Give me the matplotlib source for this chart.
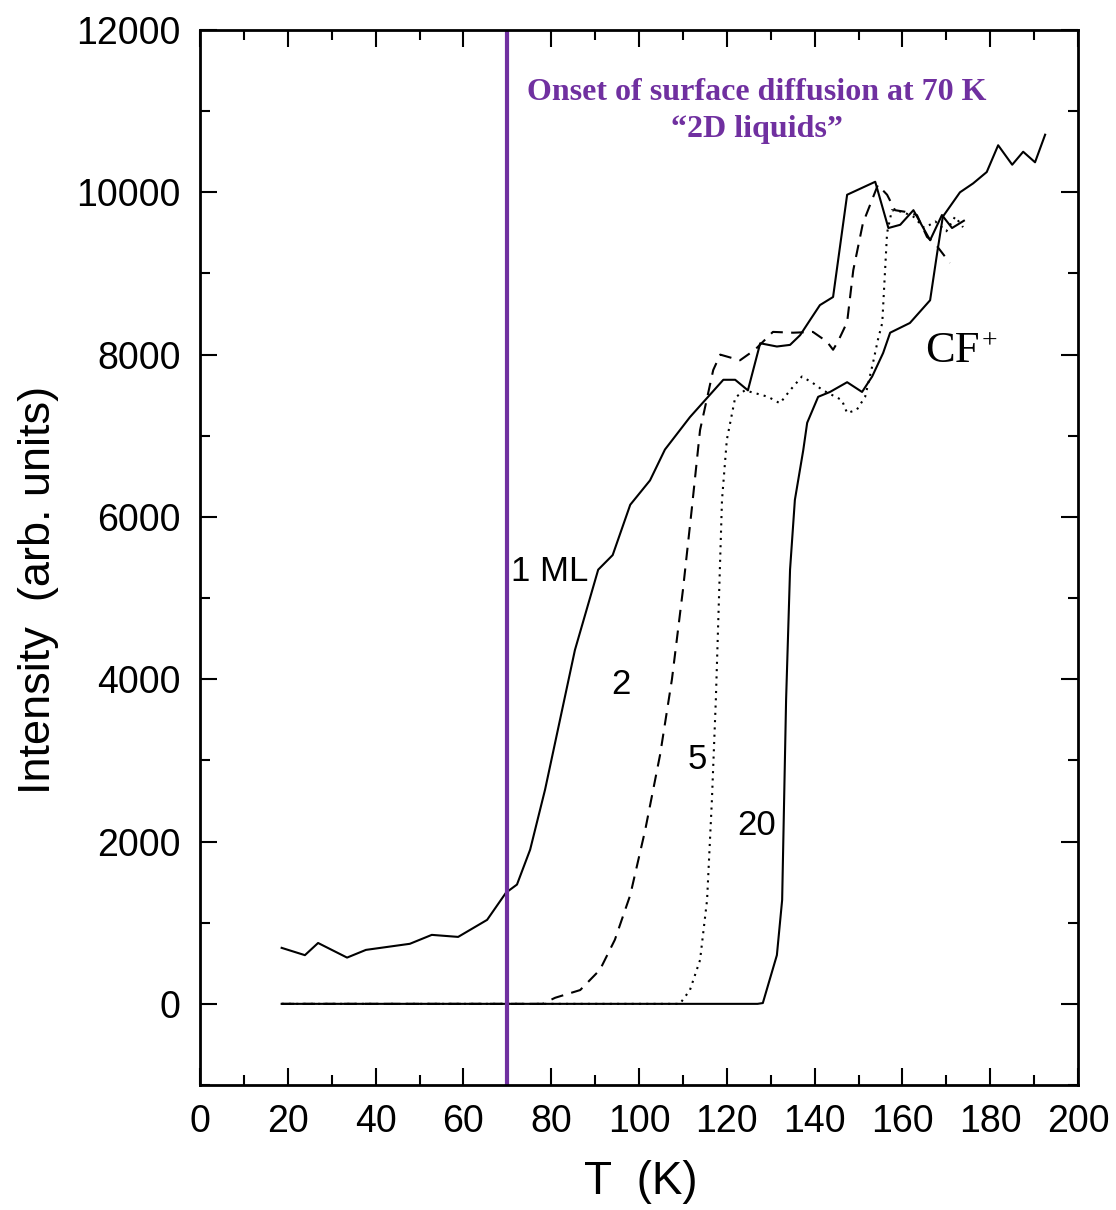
import matplotlib
matplotlib.use("Agg")
import matplotlib.pyplot as plt
from matplotlib.ticker import MultipleLocator

# CF+ desorption intensity vs temperature for different coverages
t_1ml = [18.6, 23.9, 26.9, 33.5, 37.8, 47.8, 52.8, 58.8, 65.4, 69.7, 72.2, 75.2,
         78.6, 82.0, 85.4, 90.7, 94.0, 98.0, 102.5, 105.9, 111.6, 119.2, 121.9,
         124.8, 127.6, 131.4, 134.4, 136.7, 139.0, 141.2, 144.2, 147.4, 153.8,
         156.8, 159.5, 162.5, 166.3, 169.0, 171.3, 174.0]
i_1ml = [690, 600, 750, 570, 665, 740, 850, 825, 1035, 1370, 1470, 1900,
         2640, 3500, 4360, 5350, 5530, 6150, 6450, 6830, 7230, 7690, 7690,
         7560, 8140, 8100, 8120, 8240, 8430, 8610, 8710, 9970, 10130,
         9560, 9600, 9780, 9410, 9720, 9560, 9650]

t_2ml = [18.6, 78.0, 80.9, 86.6, 91.1, 94.5, 98.0, 101.4, 104.8, 107.5, 110.0,
         112.0, 113.9, 116.9, 118.5, 123.0, 126.4, 130.5, 135.1, 139.6, 142.8,
         144.2, 145.3, 147.4, 148.8, 151.0, 154.4, 156.5, 158.3, 160.6, 163.3,
         165.6, 167.4, 170.8]
i_2ml = [0, 0, 75, 170, 420, 790, 1340, 2140, 3070, 4000, 5100,
         6090, 7070, 7810, 8000, 7930, 8060, 8280, 8270, 8280, 8160,
         8060, 8160, 8400, 9040, 9620, 10090, 9970, 9780, 9760, 9720,
         9450, 9370, 9130]

t_5ml = [18.6, 109.3, 111.6, 113.9, 115.5, 116.6, 117.5, 118.2, 118.9, 120.0,
         121.9, 124.1, 126.8, 129.4, 132.1, 134.4, 137.1, 139.6, 141.9, 146.2,
         147.4, 149.6, 151.5, 153.3, 154.4, 155.4, 156.5, 157.6, 160.0, 162.5,
         165.0, 167.5, 170.0, 172.0, 173.8]
i_5ml = [0, 0, 170, 540, 1280, 2510, 3750, 4980, 6210, 6950,
         7470, 7560, 7520, 7480, 7400, 7560, 7730, 7650, 7560, 7440,
         7280, 7320, 7480, 7900, 8180, 8390, 9500, 9780, 9760, 9700,
         9560, 9640, 9520, 9700, 9570]

t_20ml = [18.6, 127.0, 128.2, 131.4, 132.6, 133.5, 134.4, 135.5, 137.4, 138.3,
          140.8, 143.5, 147.4, 150.8, 153.1, 155.6, 157.2, 161.7, 166.3, 167.9,
          169.2, 173.1, 176.1, 179.2, 181.8, 185.0, 187.5, 190.2, 192.5]
i_20ml = [0, 0, 10, 600, 1280, 3750, 5350, 6210, 6820, 7160,
          7480, 7540, 7660, 7540, 7730, 8020, 8270, 8390, 8670, 9250,
          9700, 10000, 10110, 10250, 10580, 10340, 10500, 10370, 10710]

onset_T = 70
purple = "#7030A0"

plt.rcParams["font.family"] = ["Liberation Sans", "DejaVu Sans"]

fig = plt.figure(figsize=(11.16, 12.1), dpi=100)
ax = fig.add_axes([0.1792, 0.1033, 0.7868, 0.8719])

lw = 1.5
ax.plot(t_20ml, i_20ml, color="black", lw=lw, ls="-")
ax.plot(t_5ml, i_5ml, color="black", lw=lw, ls=(0, (1, 2.5)))
ax.plot(t_2ml, i_2ml, color="black", lw=lw, ls=(0, (6, 4)))
ax.plot(t_1ml, i_1ml, color="black", lw=lw, ls="-")

ax.axvline(onset_T, color=purple, lw=3)

ax.set_xlim(0, 200)
ax.set_ylim(-1000, 12000)
ax.xaxis.set_major_locator(MultipleLocator(20))
ax.xaxis.set_minor_locator(MultipleLocator(10))
ax.yaxis.set_minor_locator(MultipleLocator(1000))
ax.set_yticks(range(0, 12001, 2000))
ax.tick_params(which="both", direction="in", top=True, right=True,
               labelsize=27, width=1.5, pad=14)
ax.tick_params(which="major", length=12)
ax.tick_params(which="minor", length=7)
for s in ax.spines.values():
    s.set_linewidth(2)

ax.set_xlabel("T  (K)", fontsize=33)
ax.set_ylabel("Intensity  (arb. units)", fontsize=32.5)
ax.xaxis.set_label_coords(0.502, -0.071)
ax.yaxis.set_label_coords(-0.160, 0.469)

# coverage labels
ax.text(79.7, 5322, "1 ML", fontsize=25, ha="center", va="center")
ax.text(95.9, 3930, "2", fontsize=25, ha="center", va="center")
ax.text(113.2, 3006, "5", fontsize=25, ha="center", va="center")
ax.text(126.9, 2193, "20", fontsize=25, ha="center", va="center")

serif = ["Liberation Serif", "DejaVu Serif"]
ax.text(126.9, 11236, "Onset of surface diffusion at 70 K", color=purple,
        family=serif, fontweight="bold", fontsize=23, ha="center", va="center")
ax.text(126.9, 10768, "\u201c2D liquids\u201d", color=purple,
        family=serif, fontweight="bold", fontsize=23, ha="center", va="center")

ax.text(165.2, 7910, "CF", family=serif, fontsize=32, ha="left", va="baseline")
ax.text(178.0, 8080, "+", family=serif, fontsize=20, ha="left", va="baseline")

fig.savefig("out.png", dpi=100)
